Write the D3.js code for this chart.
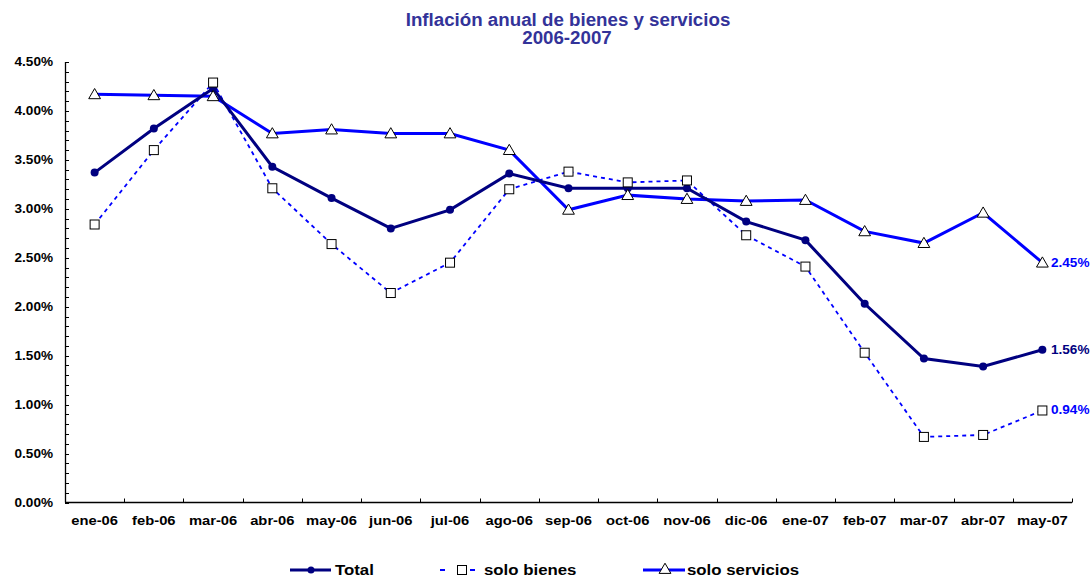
<!DOCTYPE html>
<html>
<head>
<meta charset="utf-8">
<script src="https://cdn.jsdelivr.net/npm/d3@7"></script>
<style>
body { margin: 0; background: #fff; overflow: hidden; }
svg { font-family: "Liberation Sans", Arial, sans-serif; display: block; }
</style>
</head>
<body>
<svg id="chart"></svg>
<script>
var width = 1092;
var height = 578;

var months = ["ene-06","feb-06","mar-06","abr-06","may-06","jun-06","jul-06","ago-06","sep-06",
              "oct-06","nov-06","dic-06","ene-07","feb-07","mar-07","abr-07","may-07"];
var total = [3.37,3.82,4.23,3.43,3.11,2.80,2.99,3.36,3.21,3.21,3.21,2.87,2.68,2.03,1.47,1.39,1.56];
var bienes = [2.84,3.60,4.29,3.21,2.64,2.14,2.45,3.20,3.38,3.27,3.29,2.73,2.41,1.53,0.67,0.69,0.94];
var servicios = [4.17,4.16,4.15,3.77,3.81,3.77,3.77,3.60,2.99,3.14,3.10,3.08,3.09,2.77,2.65,2.96,2.45];
var yTicks = [0,0.5,1,1.5,2,2.5,3,3.5,4,4.5];

var margin = {left: 65, right: 20, top: 62, bottom: 76};

var svg = d3.select("#chart")
    .attr("width", width)
    .attr("height", height)

// widen text a bit, the original renders glyphs wider than Liberation
var stretch = function(sel, f) {
    sel.each(function() {
        var w = this.getComputedTextLength()
        d3.select(this).attr("textLength", w * f).attr("lengthAdjust", "spacingAndGlyphs")
    })
}

var x = d3.scaleBand()
    .domain(months)
    .range([margin.left, 1072])

var y = d3.scaleLinear()
    .domain([0, 4.5])
    .range([502.5, 62])

// title
svg.append("text")
    .attr("x", 568).attr("y", 26)
    .attr("text-anchor", "middle")
    .attr("font-size", "18px").attr("font-weight", "bold")
    .attr("fill", "#333399")
    .text("Inflación anual de bienes y servicios")
    .call(stretch, 1.04)
svg.append("text")
    .attr("x", 567).attr("y", 44)
    .attr("text-anchor", "middle")
    .attr("font-size", "18px").attr("font-weight", "bold")
    .attr("fill", "#333399")
    .text("2006-2007")
    .call(stretch, 1.04)

// y axis: minor ticks every 0.1
var minor = d3.range(0, 46).map(function(i) { return i / 10 })
svg.append("g")
    .selectAll("line")
    .data(minor)
    .enter()
    .append("line")
    .attr("x1", margin.left).attr("x2", margin.left + 4)
    .attr("y1", function(d) { return Math.round(y(d)) + 0.5 })
    .attr("y2", function(d) { return Math.round(y(d)) + 0.5 })
    .attr("stroke", "#000")

svg.append("line")
    .attr("x1", margin.left + 0.5).attr("x2", margin.left + 0.5)
    .attr("y1", y(4.5)).attr("y2", y(0))
    .attr("stroke", "#000").attr("stroke-width", 1.3)

svg.append("g")
    .selectAll("text")
    .data(yTicks)
    .enter()
    .append("text")
    .attr("x", 53)
    .attr("y", function(d) { return y(d) + 4 })
    .attr("text-anchor", "end")
    .attr("font-size", "12px").attr("font-weight", "bold")
    .text(function(d) { return d.toFixed(2) + "%" })
    .call(stretch, 1.13)

// x axis
svg.append("line")
    .attr("x1", margin.left).attr("x2", 1072)
    .attr("y1", y(0)).attr("y2", y(0))
    .attr("stroke", "#000").attr("stroke-width", 1.3)

svg.append("g")
    .selectAll("line")
    .data(months)
    .enter()
    .append("line")
    .attr("x1", function(d) { return Math.round(x(d) + x.bandwidth()) + 0.5 })
    .attr("x2", function(d) { return Math.round(x(d) + x.bandwidth()) + 0.5 })
    .attr("y1", y(0)).attr("y2", y(0) - 4)
    .attr("stroke", "#000")

svg.append("g")
    .selectAll("text")
    .data(months)
    .enter()
    .append("text")
    .attr("x", function(d) { return x(d) + x.bandwidth() / 2 })
    .attr("y", 525)
    .attr("text-anchor", "middle")
    .attr("font-size", "12.5px").attr("font-weight", "bold")
    .text(function(d) { return d })
    .call(stretch, 1.18)

var cx = function(d, i) { return x(months[i]) + x.bandwidth() / 2 }

var line = d3.line()
    .x(function(d, i) { return cx(d, i) })
    .y(function(d) { return y(d) })

var tri = d3.symbol().type(d3.symbolTriangle).size(60)

// solo servicios
svg.append("path")
    .datum(servicios)
    .attr("d", line)
    .attr("fill", "none")
    .attr("stroke", "#0000ff")
    .attr("stroke-width", 3)

// solo bienes
svg.append("path")
    .datum(bienes)
    .attr("d", line)
    .attr("fill", "none")
    .attr("stroke", "#0000ff")
    .attr("stroke-width", 1.8)
    .attr("stroke-dasharray", "4,4")

// total
svg.append("path")
    .datum(total)
    .attr("d", line)
    .attr("fill", "none")
    .attr("stroke", "#000080")
    .attr("stroke-width", 3)

svg.append("g")
    .selectAll("circle")
    .data(total)
    .enter()
    .append("circle")
    .attr("cx", cx)
    .attr("cy", function(d) { return y(d) })
    .attr("r", 4)
    .attr("fill", "#000080")

svg.append("g")
    .selectAll("rect")
    .data(bienes)
    .enter()
    .append("rect")
    .attr("x", function(d, i) { return cx(d, i) - 4.5 })
    .attr("y", function(d) { return y(d) - 4.5 })
    .attr("width", 9).attr("height", 9)
    .attr("fill", "#fff")
    .attr("stroke", "#000")

svg.append("g")
    .selectAll("path")
    .data(servicios)
    .enter()
    .append("path")
    .attr("d", tri)
    .attr("transform", function(d, i) { return "translate(" + cx(d, i) + "," + (y(d) + 1) + ")" })
    .attr("fill", "#fff")
    .attr("stroke", "#000")

// end labels
var last = months.length - 1
var endLabels = [
    {v: servicios[last], c: "#0000ff"},
    {v: total[last], c: "#000080"},
    {v: bienes[last], c: "#0000ff"}
]
svg.append("g")
    .selectAll("text")
    .data(endLabels)
    .enter()
    .append("text")
    .attr("x", 1051)
    .attr("y", function(d) { return y(d.v) + 4 })
    .attr("font-size", "12px").attr("font-weight", "bold")
    .attr("fill", function(d) { return d.c })
    .text(function(d) { return d.v.toFixed(2) + "%" })
    .call(stretch, 1.13)

// legend (sits right at the bottom edge, like the original)
var lg = svg.append("g")
var ly = 570
lg.append("line").attr("x1", 290).attr("x2", 331).attr("y1", ly).attr("y2", ly)
    .attr("stroke", "#000080").attr("stroke-width", 3)
lg.append("circle").attr("cx", 311).attr("cy", ly).attr("r", 3.5).attr("fill", "#000080")
lg.append("text").attr("x", 335).attr("y", ly + 4.5)
    .attr("font-size", "14px").attr("font-weight", "bold").text("Total")

lg.append("line").attr("x1", 440).attr("x2", 475).attr("y1", ly).attr("y2", ly)
    .attr("stroke", "#0000ff").attr("stroke-width", 1.8).attr("stroke-dasharray", "5,25")
lg.append("rect").attr("x", 457.5).attr("y", ly - 4.5).attr("width", 9).attr("height", 9)
    .attr("fill", "#fff").attr("stroke", "#000")
lg.append("text").attr("x", 484).attr("y", ly + 4.5)
    .attr("font-size", "14px").attr("font-weight", "bold").text("solo bienes")

lg.append("line").attr("x1", 643).attr("x2", 685).attr("y1", ly).attr("y2", ly)
    .attr("stroke", "#0000ff").attr("stroke-width", 3)
lg.append("path").attr("d", tri).attr("transform", "translate(665," + ly + ")")
    .attr("fill", "#fff").attr("stroke", "#000")
lg.append("text").attr("x", 687).attr("y", ly + 4.5)
    .attr("font-size", "14px").attr("font-weight", "bold").text("solo servicios")

lg.selectAll("text").call(stretch, 1.2)
</script>
</body>
</html>
